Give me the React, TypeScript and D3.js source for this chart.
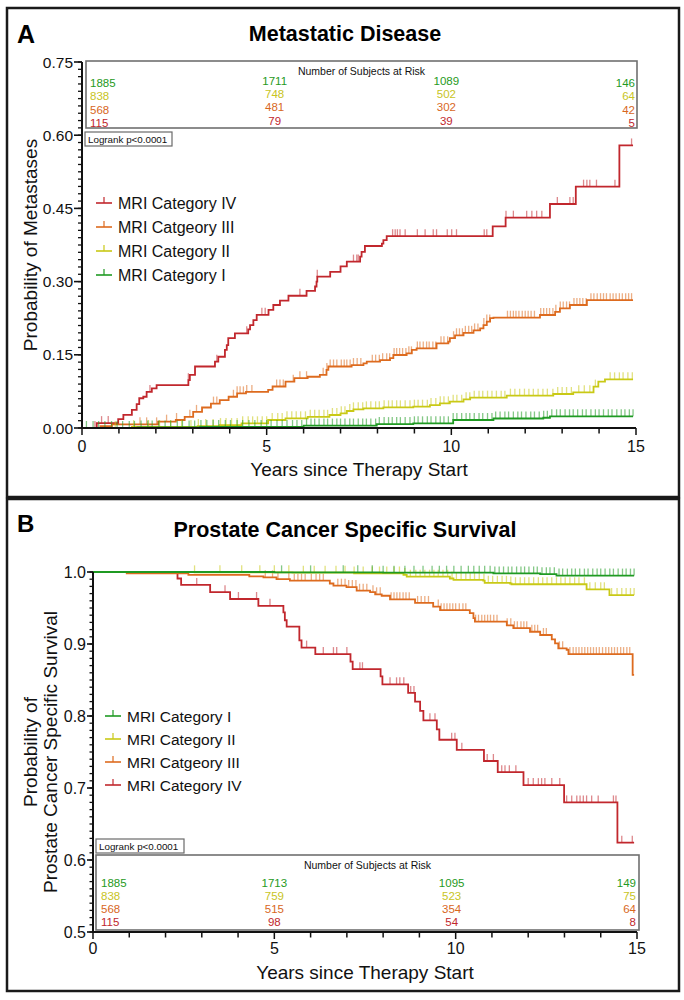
import React from "react";
import * as d3 from "d3";

type Pt = [number, number];

// ---------- shared categories ----------
const categoryNames = ["MRI Category I", "MRI Category II", "MRI Catgeory III", "MRI Category IV"];
const riskYears = [0, 5, 10, 15];

// ---------- Panel A: Metastatic disease (cumulative incidence) ----------
const metI: Pt[] = [[0, 0], [1.5, 0.001], [3.2, 0.002], [6.0, 0.005], [7.98, 0.008], [8.97, 0.0096], [10.05, 0.0164], [11.14, 0.0195], [12.49, 0.021], [12.67, 0.024], [14.92, 0.024]];
const metII: Pt[] = [[0, 0], [1.35, 0.002], [3.13, 0.004], [3.73, 0.006], [4.32, 0.0096], [5.04, 0.0164], [5.51, 0.0198], [6.11, 0.023], [6.7, 0.0266], [7.0, 0.03], [7.17, 0.0348], [7.35, 0.0382], [7.62, 0.0403], [8.16, 0.0423], [8.97, 0.0437], [9.42, 0.047], [9.69, 0.0505], [9.96, 0.054], [10.33, 0.0588], [10.51, 0.0622], [11.5, 0.0663], [12.76, 0.0697], [13.3, 0.0731], [13.85, 0.0847], [13.98, 0.095], [14.16, 0.0997], [14.92, 0.0997]];
const metIII: Pt[] = [[0, 0], [0.5, 0.004], [0.81, 0.0075], [2.06, 0.013], [2.54, 0.0164], [2.78, 0.023], [3.01, 0.033], [3.25, 0.042], [3.49, 0.05], [3.73, 0.057], [3.97, 0.064], [4.2, 0.071], [4.44, 0.074], [5.04, 0.078], [5.16, 0.085], [5.51, 0.095], [5.75, 0.102], [6.11, 0.105], [6.44, 0.109], [6.62, 0.119], [6.67, 0.126], [7.3, 0.129], [7.62, 0.1325], [7.71, 0.136], [8.07, 0.139], [8.34, 0.143], [8.43, 0.1496], [8.79, 0.153], [8.93, 0.16], [9.06, 0.163], [9.6, 0.1735], [9.92, 0.177], [9.96, 0.184], [10.1, 0.19], [10.33, 0.195], [10.6, 0.2], [10.78, 0.204], [10.87, 0.211], [10.96, 0.218], [11.05, 0.225], [11.14, 0.226], [12.4, 0.2316], [12.81, 0.238], [12.94, 0.245], [13.21, 0.252], [13.67, 0.262], [14.92, 0.262]];
const metIV: Pt[] = [[0, 0], [0.4, 0.01], [0.98, 0.018], [1.12, 0.027], [1.35, 0.037], [1.48, 0.049], [1.55, 0.061], [1.66, 0.064], [1.75, 0.074], [1.89, 0.081], [2.02, 0.088], [2.88, 0.098], [2.92, 0.109], [3.06, 0.126], [3.6, 0.136], [3.69, 0.146], [3.87, 0.16], [3.92, 0.17], [3.96, 0.184], [4.14, 0.194], [4.5, 0.202], [4.55, 0.211], [4.64, 0.221], [4.73, 0.232], [5.05, 0.242], [5.18, 0.252], [5.36, 0.261], [5.59, 0.271], [6.08, 0.281], [6.31, 0.29], [6.35, 0.3], [6.37, 0.31], [6.72, 0.32], [7.0, 0.331], [7.17, 0.341], [7.53, 0.351], [7.57, 0.361], [7.66, 0.373], [8.12, 0.378], [8.16, 0.385], [8.25, 0.393], [11.12, 0.413], [11.47, 0.431], [12.67, 0.459], [13.37, 0.4945], [14.55, 0.579], [14.92, 0.579]];

const metCensI = [0.12, 0.3, 0.45, 0.62, 0.8, 0.95, 1.1, 1.28, 1.42, 1.6, 1.78, 1.9, 2.08, 2.25, 2.4, 2.58, 2.72, 2.9, 3.05, 3.22, 3.38, 3.55, 3.7, 3.88, 4.02, 4.2, 4.35, 4.52, 4.68, 4.85, 5.0, 5.12, 5.28, 5.42, 5.55, 5.7, 5.82, 5.95, 6.08, 6.2, 6.3, 6.42, 6.55, 6.65, 6.78, 6.9, 7.0, 7.12, 7.25, 7.35, 7.48, 7.6, 7.7, 7.82, 7.95, 8.05, 8.18, 8.3, 8.4, 8.52, 8.62, 8.75, 8.88, 9.0, 9.1, 9.22, 9.35, 9.45, 9.58, 9.7, 9.8, 9.92, 10.05, 10.15, 10.28, 10.4, 10.5, 10.62, 10.75, 10.85, 10.98, 11.1, 11.2, 11.32, 11.45, 11.55, 11.68, 11.8, 11.9, 12.02, 12.15, 12.25, 12.38, 12.5, 12.6, 12.72, 12.85, 12.95, 13.08, 13.2, 13.3, 13.42, 13.55, 13.65, 13.78, 13.9, 14.0, 14.12, 14.25, 14.35, 14.48, 14.6, 14.7, 14.82, 14.92];
const metCensII = [0.9, 1.4, 1.8, 2.1, 2.4, 2.7, 2.95, 3.15, 3.35, 3.55, 3.75, 3.9, 4.05, 4.2, 4.35, 4.5, 4.62, 4.75, 4.88, 5.0, 5.15, 5.3, 5.42, 5.55, 5.68, 5.8, 5.92, 6.05, 6.18, 6.3, 6.42, 6.55, 6.65, 6.78, 6.9, 7.02, 7.12, 7.25, 7.35, 7.48, 7.6, 7.7, 7.82, 7.95, 8.05, 8.18, 8.3, 8.4, 8.52, 8.62, 8.75, 8.88, 9.0, 9.1, 9.22, 9.35, 9.45, 9.58, 9.7, 9.8, 9.92, 10.05, 10.15, 10.28, 10.4, 10.5, 10.62, 10.75, 10.85, 10.98, 11.1, 11.22, 11.35, 11.45, 11.6, 11.72, 11.85, 11.98, 12.1, 12.22, 12.35, 12.48, 12.6, 12.75, 12.88, 13.0, 13.12, 13.25, 13.45, 13.6, 13.75, 13.9, 14.3, 14.42, 14.55, 14.65, 14.78, 14.9];
const metCensIII = [1.57, 1.75, 2.02, 2.29, 2.56, 2.92, 3.1, 3.56, 3.65, 4.1, 4.2, 4.28, 4.37, 4.46, 4.6, 5.27, 5.36, 5.45, 5.72, 5.9, 6.08, 6.53, 6.63, 6.72, 6.81, 6.9, 7.02, 7.1, 7.17, 7.26, 7.35, 7.45, 7.55, 7.86, 7.95, 8.05, 8.14, 8.25, 8.33, 8.45, 8.52, 8.6, 8.68, 8.77, 8.85, 8.92, 9.08, 9.15, 9.24, 9.33, 9.4, 9.5, 9.58, 9.72, 9.8, 9.9, 10.06, 10.14, 10.22, 10.3, 10.38, 10.47, 10.55, 10.63, 10.72, 10.88, 10.96, 11.04, 11.52, 11.6, 11.68, 11.75, 11.83, 11.92, 12.0, 12.08, 12.16, 12.25, 12.42, 12.5, 12.58, 12.66, 12.75, 12.83, 12.95, 13.03, 13.12, 13.2, 13.32, 13.4, 13.48, 13.56, 13.65, 13.78, 13.86, 13.95, 14.04, 14.12, 14.2, 14.3, 14.38, 14.46, 14.55, 14.63, 14.72, 14.8, 14.88];
const metCensIV = [0.35, 0.53, 0.71, 1.84, 2.88, 3.65, 4.46, 4.87, 4.96, 5.9, 6.37, 7.35, 7.44, 7.48, 8.41, 8.48, 8.54, 8.61, 8.75, 9.08, 9.29, 9.51, 9.6, 9.89, 10.01, 10.14, 10.89, 10.96, 11.48, 11.68, 12.04, 12.18, 12.31, 12.45, 12.87, 13.21, 13.3, 13.58, 13.67, 13.75, 13.93, 14.43, 14.88];

const metRiskI = [1885, 1711, 1089, 146];
const metRiskII = [838, 748, 502, 64];
const metRiskIII = [568, 481, 302, 42];
const metRiskIV = [115, 79, 39, 5];

// ---------- Panel B: Prostate cancer specific survival ----------
const pcssI: Pt[] = [[0, 1], [5, 0.9995], [8.0, 0.999], [11.04, 0.998], [12.33, 0.997], [12.78, 0.995], [14.92, 0.995]];
const pcssII: Pt[] = [[0, 1], [2.8, 0.9995], [5.5, 0.999], [7.2, 0.998], [8.56, 0.996], [8.65, 0.9935], [9.84, 0.991], [9.94, 0.989], [10.76, 0.988], [10.8, 0.985], [11.5, 0.984], [11.54, 0.983], [13.61, 0.976], [14.24, 0.968], [14.92, 0.968]];
const pcssIII: Pt[] = [[0, 1], [0.93, 0.998], [2.63, 0.996], [4.31, 0.994], [4.7, 0.9926], [5.06, 0.99], [5.43, 0.988], [6.53, 0.984], [6.63, 0.981], [6.99, 0.979], [7.27, 0.974], [7.64, 0.972], [7.78, 0.969], [7.96, 0.967], [8.19, 0.962], [8.88, 0.957], [9.38, 0.952], [9.57, 0.947], [10.39, 0.943], [10.49, 0.936], [10.53, 0.931], [11.41, 0.926], [11.59, 0.922], [12.05, 0.917], [12.33, 0.9125], [12.65, 0.9065], [12.74, 0.901], [12.83, 0.894], [13.06, 0.892], [13.11, 0.886], [14.88, 0.857], [14.92, 0.857]];
const pcssIV: Pt[] = [[0, 1], [2.33, 0.991], [2.43, 0.982], [3.23, 0.972], [3.78, 0.9625], [4.56, 0.953], [5.25, 0.944], [5.29, 0.933], [5.34, 0.924], [5.69, 0.905], [5.75, 0.895], [6.13, 0.886], [7.1, 0.8755], [7.16, 0.865], [7.93, 0.855], [7.98, 0.844], [8.69, 0.832], [8.88, 0.82], [9.02, 0.807], [9.11, 0.794], [9.48, 0.7815], [9.55, 0.767], [10.03, 0.753], [10.78, 0.7375], [11.16, 0.722], [11.87, 0.704], [12.99, 0.68], [14.46, 0.624], [14.92, 0.624]];

const pcssCensI = [5.2, 6.0, 6.9, 7.3, 7.7, 8.0, 8.3, 8.6, 8.85, 9.1, 9.35, 9.55, 9.75, 9.95, 10.15, 10.35, 10.5, 10.65, 10.8, 10.95, 11.08, 11.2, 11.32, 11.45, 11.55, 11.68, 11.8, 11.9, 12.02, 12.15, 12.25, 12.38, 12.5, 12.6, 12.72, 12.85, 12.95, 13.08, 13.2, 13.3, 13.42, 13.55, 13.65, 13.78, 13.9, 14.0, 14.12, 14.25, 14.35, 14.48, 14.6, 14.7, 14.82, 14.92];
const pcssCensII = [2.8, 3.5, 4.1, 4.6, 5.0, 5.4, 5.8, 6.1, 6.4, 6.7, 6.95, 7.2, 7.45, 7.7, 7.9, 8.1, 8.3, 8.45, 8.6, 8.75, 8.9, 9.02, 9.15, 9.28, 9.4, 9.52, 9.65, 9.78, 9.9, 10.02, 10.15, 10.28, 10.4, 10.52, 10.65, 10.78, 10.9, 11.02, 11.15, 11.28, 11.4, 11.52, 11.65, 11.78, 11.9, 12.02, 12.15, 12.28, 12.4, 12.52, 12.65, 12.78, 12.9, 13.02, 13.15, 13.28, 13.4, 13.55, 13.7, 13.85, 14.0, 14.1, 14.3, 14.45, 14.58, 14.7, 14.82, 14.92];
const pcssCensIII = [4.75, 4.95, 5.1, 5.4, 5.55, 5.65, 5.75, 5.85, 6.02, 6.15, 6.25, 6.35, 6.75, 6.85, 6.95, 7.05, 7.15, 7.25, 7.35, 7.45, 7.55, 7.72, 7.82, 7.92, 8.22, 8.3, 8.38, 8.46, 8.55, 8.63, 8.72, 8.95, 9.05, 9.15, 9.25, 9.52, 9.6, 9.68, 9.76, 9.84, 9.92, 10.0, 10.1, 10.2, 10.28, 10.55, 10.63, 10.72, 10.8, 10.88, 10.96, 11.05, 11.14, 11.42, 11.52, 11.62, 11.7, 11.8, 11.88, 11.96, 12.1, 12.18, 12.26, 12.42, 12.5, 12.86, 12.95, 13.15, 13.24, 13.32, 13.4, 13.48, 13.56, 13.64, 13.72, 13.8, 13.88, 13.96, 14.05, 14.14, 14.22, 14.3, 14.38, 14.46, 14.55, 14.63, 14.72, 14.8];
const pcssCensIV = [2.86, 3.64, 4.01, 4.51, 4.88, 5.89, 6.35, 6.63, 6.72, 7.0, 7.36, 7.43, 8.19, 8.37, 8.46, 8.57, 8.76, 8.85, 9.29, 9.43, 9.89, 9.98, 10.17, 10.87, 11.04, 11.27, 11.36, 11.48, 11.66, 12.0, 12.14, 12.28, 12.37, 12.46, 12.65, 12.87, 13.06, 13.2, 13.34, 13.43, 13.52, 13.61, 13.75, 13.93, 14.35, 14.42, 14.58, 14.87];

const pcssRiskI = [1885, 1713, 1095, 149];
const pcssRiskII = [838, 759, 523, 75];
const pcssRiskIII = [568, 515, 354, 64];
const pcssRiskIV = [115, 98, 54, 8];

// ---------- styles ----------
const LINE_COLORS = ["#1f9a22", "#c9c916", "#dd6b1f", "#c1272d"];
const TEXT_COLORS = ["#1f9a22", "#c8c424", "#d8671d", "#c1272d"];
const FONT = "'Liberation Sans', Arial, Helvetica, sans-serif";

function stepValue(curve: Pt[], t: number): number {
  let v = curve[0][1];
  for (const p of curve) {
    if (p[0] <= t) v = p[1];
    else break;
  }
  return v;
}

type PanelCfg = {
  frame: [number, number, number, number];
  letter: { text: string; x: number; y: number; size: number };
  title: { text: string; x: number; y: number };
  xRange: [number, number];
  yDomain: [number, number];
  yRange: [number, number];
  yMajor: number[];
  yMinorStep: number;
  yFmt: string;
  yMajorLen: number;
  yMinorLen: number;
  yTickFont: number;
  yLabelLines: string[];
  yLabelX: number[];
  xLabelY: number;
  xTickLabelY: number;
  curves: Pt[][];
  censors: number[][];
  legendOrder: number[];
  legend: { x: number; y: number; dy: number; size: number };
  risk: number[][];
  riskBox: [number, number, number, number];
  riskHeaderY: number;
  riskRowY: number;
  riskRowDy: number;
  riskColDx: number[];
  riskColDy: number[];
  logrank: [number, number, number, number];
};

function Panel({ c }: { c: PanelCfg }) {
  const x = d3.scaleLinear().domain([0, 15]).range(c.xRange);
  const y = d3.scaleLinear().domain(c.yDomain).range(c.yRange);
  const line = d3
    .line<Pt>()
    .x((d) => x(d[0]))
    .y((d) => y(d[1]))
    .curve(d3.curveStepAfter);
  const fmt = d3.format(c.yFmt);
  const nMinor = Math.round((c.yDomain[1] - c.yDomain[0]) / c.yMinorStep);
  const minor = d3.range(nMinor + 1).map((i) => c.yDomain[0] + i * c.yMinorStep);
  const xTicks = d3.range(0, 16);
  const [fx, fy, fw, fh] = c.frame;
  const [rx0, ry0, rx1, ry1] = c.riskBox;
  const anchors = ["start", "middle", "middle", "end"];
  const x0 = c.xRange[0];
  const yBase = c.yRange[0];
  const yTop = c.yRange[1];
  const yMid = (c.yRange[0] + c.yRange[1]) / 2;
  const xMid = (c.xRange[0] + c.xRange[1]) / 2;
  const drawOrder = [3, 2, 1, 0];
  return (
    <g>
      <rect x={fx} y={fy} width={fw} height={fh} fill="none" stroke="#1a1a1a" strokeWidth={2.5} />
      <text x={c.letter.x} y={c.letter.y} fontSize={c.letter.size} fontWeight="bold" fontFamily={FONT}>
        {c.letter.text}
      </text>
      <text x={c.title.x} y={c.title.y} fontSize={21.5} fontWeight="bold" textAnchor="middle" fontFamily={FONT}>
        {c.title.text}
      </text>

      {/* risk table */}
      <rect x={rx0} y={ry0} width={rx1 - rx0} height={ry1 - ry0} fill="white" stroke="#707070" strokeWidth={1.6} />
      <text x={(rx0 + rx1) / 2} y={c.riskHeaderY} fontSize={10.5} textAnchor="middle" fontFamily={FONT} fill="#111">
        Number of Subjects at Risk
      </text>
      {c.risk.map((row, ri) =>
        row.map((v, ci) => (
          <text
            key={`r${ri}-${ci}`}
            x={x(riskYears[ci]) + c.riskColDx[ci]}
            y={c.riskRowY + ri * c.riskRowDy + c.riskColDy[ci]}
            fontSize={11.5}
            textAnchor={anchors[ci]}
            fill={TEXT_COLORS[ri]}
            fontFamily={FONT}
          >
            {v}
          </text>
        ))
      )}

      {/* logrank box */}
      <rect x={c.logrank[0]} y={c.logrank[1]} width={c.logrank[2]} height={c.logrank[3]} fill="white" stroke="#6a6a6a" strokeWidth={1.2} />
      <text x={c.logrank[0] + 3} y={c.logrank[1] + c.logrank[3] - 3.5} fontSize={9.8} fontFamily={FONT} fill="#111">
        Logrank p&lt;0.0001
      </text>

      {/* curves and censor marks */}
      {drawOrder.map((si) => (
        <g key={`s${si}`}>
          {c.censors[si].map((t, k) => {
            const yy = y(stepValue(c.curves[si], t));
            return (
              <line
                key={k}
                x1={x(t)}
                x2={x(t)}
                y1={yy}
                y2={yy - 7}
                stroke={LINE_COLORS[si]}
                strokeOpacity={0.55}
                strokeWidth={1.3}
              />
            );
          })}
          <path d={line(c.curves[si]) || ""} fill="none" stroke={LINE_COLORS[si]} strokeWidth={1.8} />
        </g>
      ))}

      {/* axes */}
      <line x1={x0} x2={x0} y1={yBase + 1} y2={yTop} stroke="#111" strokeWidth={2} />
      <line x1={x0 - 1} x2={c.xRange[1]} y1={yBase} y2={yBase} stroke="#111" strokeWidth={2} />
      {minor.map((v, i) => (
        <line key={`ym${i}`} x1={x0 - c.yMinorLen} x2={x0} y1={y(v)} y2={y(v)} stroke="#111" strokeWidth={1.3} />
      ))}
      {c.yMajor.map((v, i) => (
        <g key={`yM${i}`}>
          <line x1={x0 - c.yMajorLen} x2={x0} y1={y(v)} y2={y(v)} stroke="#111" strokeWidth={1.6} />
          <text x={x0 - c.yMajorLen - 1} y={y(v) + 5.5} fontSize={c.yTickFont} textAnchor="end" fontFamily={FONT} fill="#111">
            {fmt(v)}
          </text>
        </g>
      ))}
      {xTicks.map((t) => (
        <line key={`xt${t}`} x1={x(t)} x2={x(t)} y1={yBase} y2={yBase + (t % 5 === 0 ? 7 : 5.5)} stroke="#111" strokeWidth={1.5} />
      ))}
      {riskYears.map((t) => (
        <text key={`xl${t}`} x={x(t)} y={c.xTickLabelY} fontSize={16} textAnchor="middle" fontFamily={FONT} fill="#111">
          {t}
        </text>
      ))}
      <text x={xMid} y={c.xLabelY} fontSize={19} textAnchor="middle" fontFamily={FONT} fill="#111">
        Years since Therapy Start
      </text>
      {c.yLabelLines.map((s, i) => (
        <text
          key={`yl${i}`}
          transform={`translate(${c.yLabelX[i]},${yMid}) rotate(-90)`}
          fontSize={19}
          textAnchor="middle"
          fontFamily={FONT}
          fill="#111"
        >
          {s}
        </text>
      ))}

      {/* legend */}
      {c.legendOrder.map((si, k) => {
        const ly = c.legend.y + k * c.legend.dy;
        return (
          <g key={`lg${si}`}>
            <line x1={c.legend.x} x2={c.legend.x + 16} y1={ly} y2={ly} stroke={LINE_COLORS[si]} strokeWidth={1.6} />
            <line x1={c.legend.x + 8} x2={c.legend.x + 8} y1={ly} y2={ly - 6} stroke={LINE_COLORS[si]} strokeWidth={1.2} />
            <text x={c.legend.x + 22} y={ly + 6} fontSize={c.legend.size} fontFamily={FONT} fill="#111">
              {categoryNames[si]}
            </text>
          </g>
        );
      })}
    </g>
  );
}

const panelA: PanelCfg = {
  frame: [7, 8, 672, 489],
  letter: { text: "A", x: 17, y: 43, size: 25 },
  title: { text: "Metastatic Disease", x: 345, y: 41 },
  xRange: [82, 636],
  yDomain: [0, 0.75],
  yRange: [428, 62],
  yMajor: [0, 0.15, 0.3, 0.45, 0.6, 0.75],
  yMinorStep: 0.015,
  yFmt: ".2f",
  yMajorLen: 8,
  yMinorLen: 4,
  yTickFont: 15.5,
  yLabelLines: ["Probability of Metastases"],
  yLabelX: [37],
  xLabelY: 476,
  xTickLabelY: 452,
  curves: [metI, metII, metIII, metIV],
  censors: [metCensI, metCensII, metCensIII, metCensIV],
  legendOrder: [3, 2, 1, 0],
  legend: { x: 96, y: 203, dy: 24, size: 16 },
  risk: [metRiskI, metRiskII, metRiskIII, metRiskIV],
  riskBox: [86, 61, 637, 128],
  riskHeaderY: 75,
  riskRowY: 87,
  riskRowDy: 13.4,
  riskColDx: [8, 8, -5, -1],
  riskColDy: [0, -2.5, -2.5, 0],
  logrank: [85, 132, 87, 14],
};

const panelB: PanelCfg = {
  frame: [7, 499, 672, 492],
  letter: { text: "B", x: 17, y: 532, size: 24 },
  title: { text: "Prostate Cancer Specific Survival", x: 345, y: 537 },
  xRange: [93, 637],
  yDomain: [0.5, 1.0],
  yRange: [932, 572],
  yMajor: [0.5, 0.6, 0.7, 0.8, 0.9, 1.0],
  yMinorStep: 0.01,
  yFmt: ".1f",
  yMajorLen: 6,
  yMinorLen: 3.5,
  yTickFont: 16,
  yLabelLines: ["Probability of", "Prostate Cancer Specific Survival"],
  yLabelX: [37, 57],
  xLabelY: 979,
  xTickLabelY: 954,
  curves: [pcssI, pcssII, pcssIII, pcssIV],
  censors: [pcssCensI, pcssCensII, pcssCensIII, pcssCensIV],
  legendOrder: [0, 1, 2, 3],
  legend: { x: 105, y: 716, dy: 23, size: 15.5 },
  risk: [pcssRiskI, pcssRiskII, pcssRiskIII, pcssRiskIV],
  riskBox: [96, 855, 639, 930],
  riskHeaderY: 869,
  riskRowY: 886.5,
  riskRowDy: 13,
  riskColDx: [8, 0, -4, -1],
  riskColDy: [0, 0, 0, 0],
  logrank: [96, 839, 88, 14],
};

export default function App() {
  return (
    <svg
      width={684}
      height={1000}
      viewBox="0 0 684 1000"
      style={{ position: "absolute", left: 0, top: 0, background: "white" }}
    >
      <rect x={0} y={0} width={684} height={1000} fill="white" />
      <Panel c={panelA} />
      <Panel c={panelB} />
    </svg>
  );
}
